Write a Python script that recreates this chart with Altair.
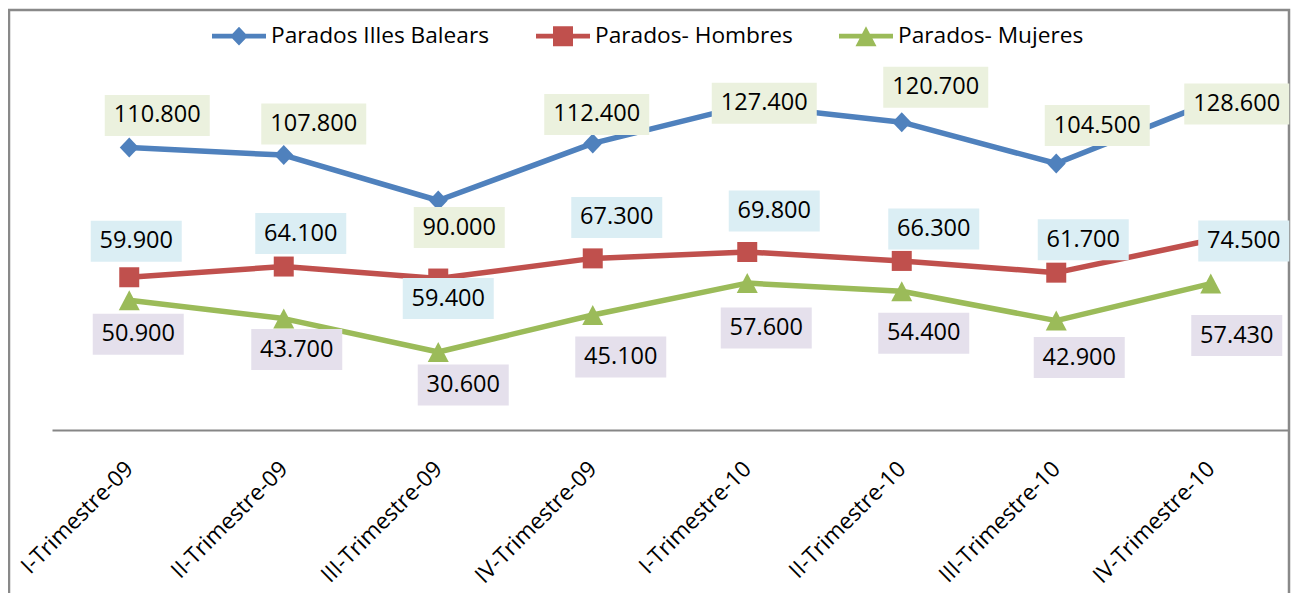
import altair as alt
import pandas as pd

# ---------------- data ----------------
categories = ["I-Trimestre-09", "II-Trimestre-09", "III-Trimestre-09", "IV-Trimestre-09",
              "I-Trimestre-10", "II-Trimestre-10", "III-Trimestre-10", "IV-Trimestre-10"]
series_names = ["Parados Illes Balears", "Parados- Hombres", "Parados- Mujeres"]
parados_balears = [110800, 107800, 90000, 112400, 127400, 120700, 104500, 128600]
parados_hombres = [59900, 64100, 59400, 67300, 69800, 66300, 61700, 74500]
parados_mujeres = [50900, 43700, 30600, 45100, 57600, 54400, 42900, 57430]

# ---------------- label placement (pixel offsets of each data label) ----------------
label_dx = {
    "Parados Illes Balears": [28, 30, 21, 4, 17, 34, 41, 26],
    "Parados- Hombres": [7, 17, 10, 24, 27, 32, 27, 33],
    "Parados- Mujeres": [9, 13, 25, 28, 19, 22, 23, 26],
}
label_dy = {
    "Parados Illes Balears": [-32, -31, 27, -29, -2, -35, -38, 2],
    "Parados- Hombres": [-36, -33, 20, -41, -41, -32, -33, 1],
    "Parados- Mujeres": [34, 31, 33, 42, 45, 42, 37, 52],
}

# ---------------- styles ----------------
line_colors = ["#4F81BD", "#C0504D", "#9BBB59"]
box_colors = ["#EBF1DE", "#DBEEF4", "#E5E0EC"]
marker_paths = {
    "Parados Illes Balears": "M0,-10L9.5,0L0,10L-9.5,0Z",
    "Parados- Hombres": "M-10,-10H10V10H-10Z",
    "Parados- Mujeres": "M0,-10L10.5,10H-10.5Z",
}
legend_bar = "M-1,-0.09H1V0.09H-1Z "
legend_paths = [
    legend_bar + "M0,-0.35L0.33,0L0,0.35L-0.33,0Z",
    legend_bar + "M-0.37,-0.37H0.37V0.37H-0.37Z",
    legend_bar + "M0,-0.37L0.39,0.37H-0.39Z",
]
FONT = "Open Sans"
W, H = 1236, 357
Y_MAX = 140000
STEP_PX = W / len(categories)
Y_PER_PX = Y_MAX / H


def box_path(n):
    hw = (14 * n + 7) / 2
    return f"M{-hw},-20.5H{hw}V20.5H{-hw}Z"


rows = []
for s, vals in zip(series_names, [parados_balears, parados_hombres, parados_mujeres]):
    for i, (c, v) in enumerate(zip(categories, vals)):
        lab = f"{v:,}".replace(",", ".")
        rows.append(dict(cat=c, idx=i, series=s, value=v, label=lab,
                         lx=i + label_dx[s][i] / STEP_PX,
                         ly=v - label_dy[s][i] * Y_PER_PX,
                         box=box_path(len(lab)), marker=marker_paths[s]))
df = pd.DataFrame(rows)

cat_js = "[" + ",".join(f"'{c}'" for c in categories) + "]"
x_scale = alt.Scale(domain=[-0.5, len(categories) - 0.5], nice=False, zero=False)
y_scale = alt.Scale(domain=[0, Y_MAX], nice=False, zero=True)
x_axis = alt.Axis(title=None, values=list(range(len(categories))),
                  labelExpr=f"{cat_js}[datum.value]",
                  labelAngle=-45, labelAlign="right", labelBaseline="middle",
                  labelPadding=35, ticks=False, grid=False,
                  labelFont=FONT, labelFontSize=22.5, labelColor="black",
                  labelOverlap=False, labelLimit=400, labelFlush=False,
                  domainColor="#868686", domainWidth=2)

legend = alt.Legend(orient="none", legendX=160, legendY=-64, direction="horizontal",
                    title=None, symbolSize=2916, symbolStrokeWidth=0, symbolOpacity=1,
                    labelFont=FONT, labelFontSize=22.7, labelColor="black",
                    labelOffset=5, columnPadding=46, padding=0, offset=0, labelLimit=400)

base = alt.Chart(df)

# legend-only layer (no rows drawn): its shapes combine the line and the marker
legend_layer = base.transform_filter("false").mark_point(filled=True, opacity=1).encode(
    x=alt.X("idx:Q", scale=x_scale, axis=x_axis),
    y=alt.Y("value:Q", scale=y_scale, axis=None),
    color=alt.Color("series:N", scale=alt.Scale(domain=series_names, range=line_colors),
                    legend=legend),
    shape=alt.Shape("series:N", scale=alt.Scale(domain=series_names, range=legend_paths),
                    legend=legend),
)

lines = base.mark_line(strokeWidth=5.5, strokeJoin="round", strokeCap="round").encode(
    x=alt.X("idx:Q", scale=x_scale),
    y=alt.Y("value:Q", scale=y_scale),
    stroke=alt.Stroke("series:N", scale=alt.Scale(range=line_colors), legend=None),
    detail="series:N",
    order="idx:Q",
)

points = base.mark_point(filled=True, size=4, opacity=1, strokeWidth=0).encode(
    x=alt.X("idx:Q", scale=x_scale),
    y=alt.Y("value:Q", scale=y_scale),
    shape=alt.Shape("marker:N", scale=None),
    fill=alt.Fill("series:N", scale=alt.Scale(domain=series_names, range=line_colors),
                  legend=None),
)

boxes = base.mark_point(filled=True, size=4, opacity=1, strokeWidth=0).encode(
    x=alt.X("lx:Q", scale=x_scale),
    y=alt.Y("ly:Q", scale=y_scale),
    shape=alt.Shape("box:N", scale=None),
    fill=alt.Fill("series:N", scale=alt.Scale(domain=series_names, range=box_colors),
                  legend=None),
)

texts = base.mark_text(font=FONT, fontSize=23.5, color="black", align="center",
                       baseline="middle").encode(
    x=alt.X("lx:Q", scale=x_scale),
    y=alt.Y("ly:Q", scale=y_scale),
    text="label:N",
)

frame = alt.Chart(pd.DataFrame({"f": [0]})).mark_rect(
    fill="transparent", stroke="#898989", strokeWidth=2.5).encode(
    x=alt.value(-43), x2=alt.value(1237), y=alt.value(-63), y2=alt.value(600))

chart = alt.layer(legend_layer, frame, lines, points, boxes, texts).resolve_scale(
    fill="independent"
).properties(
    width=W, height=H, background="white",
    padding={"left": 44, "top": 65, "right": 10, "bottom": 163},
    autosize=alt.AutoSizeParams(type="none"),
).configure_view(stroke="transparent", strokeWidth=0)

chart.save("out.html", embed_options={"renderer": "svg", "actions": False})
